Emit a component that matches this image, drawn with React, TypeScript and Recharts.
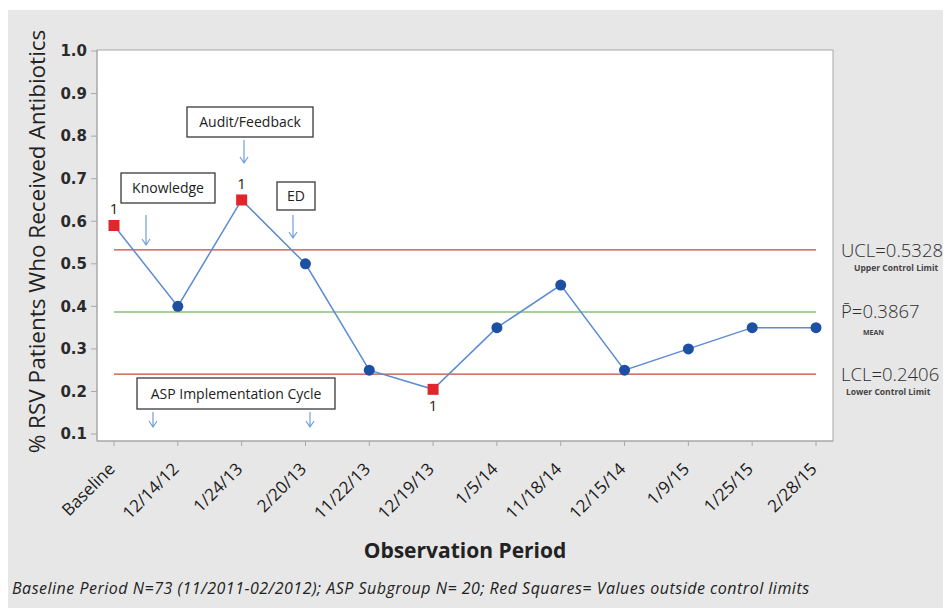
import React from 'react';
import { LineChart, Line, XAxis, YAxis, ReferenceLine, CartesianGrid, LabelList, Label } from 'recharts';

const categories = ['Baseline', '12/14/12', '1/24/13', '2/20/13', '11/22/13', '12/19/13', '1/5/14', '11/18/14', '12/15/14', '1/9/15', '1/25/15', '2/28/15'];
const proportions = [0.59, 0.40, 0.65, 0.50, 0.25, 0.205, 0.35, 0.45, 0.25, 0.30, 0.35, 0.35];
const UCL = 0.5328;
const MEAN = 0.3867;
const LCL = 0.2406;
const yTicks = [0.1, 0.2, 0.3, 0.4, 0.5, 0.6, 0.7, 0.8, 0.9, 1.0];

const data = categories.map((c, i) => ({ period: c, p: proportions[i], ucl: UCL, mean: MEAN, lcl: LCL }));

const FONT = '"Open Sans", "Noto Sans", sans-serif';

const isOut = (v: number) => v > UCL || v < LCL;

const PointDot = (props: any) => {
  const { cx, cy, payload, index } = props;
  if (cx == null || cy == null) return <g key={index} />;
  if (isOut(payload.p)) {
    return <rect key={index} x={cx - 5.5} y={cy - 5.5} width={11} height={11} fill="#e0262b" />;
  }
  return <circle key={index} cx={cx} cy={cy} r={5.5} fill="#1d4fa3" />;
};

const OutLabel = (props: any) => {
  const { x, y, value } = props;
  if (!isOut(value)) return null;
  const above = value > UCL;
  return (
    <text x={x} y={above ? y - 11 : y + 22} textAnchor="middle" fontSize={15} fontFamily={FONT} fill="#222">
      1
    </text>
  );
};

const XTick = (props: any) => {
  const { x, y, payload } = props;
  return (
    <g transform={`translate(${x + 2},${y + 22})`}>
      <text transform="rotate(-45)" textAnchor="end" fontSize={17} fontFamily={FONT} fill="#1a1a1a">
        {payload.value}
      </text>
    </g>
  );
};

const limitLabel = (main: string, sub: string, mainDy: number, subDx: number, subDy: number, subSize: number) => (p: any) => {
  const vb = p.viewBox || {};
  const x0 = (vb.x || 0) + (vb.width || 0) + 8;
  const y0 = vb.y || 0;
  return (
    <g>
      <text x={x0} y={y0 + mainDy} fontSize={18.5} fontFamily={FONT} fill="#2e2e2e" fontWeight={300}>
        {main}
      </text>
      <text x={x0 + subDx} y={y0 + subDy} fontSize={subSize} fontFamily={FONT} fontWeight="bold" fill="#444">
        {sub}
      </text>
    </g>
  );
};

const Arrow = ({ x, y1, y2 }: { x: number; y1: number; y2: number }) => (
  <path d={`M${x},${y1} L${x},${y2} M${x - 4},${y2 - 6} L${x},${y2} L${x + 4},${y2 - 6}`} stroke="#6f9fd8" strokeWidth={1.2} fill="none" />
);

const Box = ({ x, y, w, h, text }: { x: number; y: number; w: number; h: number; text: string }) => (
  <g>
    <rect x={x} y={y} width={w} height={h} fill="#fff" stroke="#3a3a3a" strokeWidth={1.3} />
    <text x={x + w / 2} y={y + h / 2 + 5} textAnchor="middle" fontSize={14} fontFamily={FONT} fill="#222">
      {text}
    </text>
  </g>
);

export default function App() {
  return (
    <div style={{ paddingTop: 2 }}>
      <div style={{ position: 'relative', width: 943, height: 598, background: '#e7e7e7' }}>
        <LineChart width={943} height={598} data={data} margin={{ top: 40, right: 118, left: 29, bottom: 107 }}>
          <CartesianGrid fill="#ffffff" horizontal={false} vertical={false} />
          <XAxis
            dataKey="period"
            padding={{ left: 17, right: 17 }}
            height={60}
            interval={0}
            tick={<XTick />}
            tickSize={5}
            stroke="#a8a8a8"
            tickLine={{ stroke: '#a8a8a8' }}
          />
          <YAxis
            type="number"
            domain={[0.0836, 1.0024]}
            ticks={yTicks}
            width={60}
            tickSize={6}
            tickMargin={4}
            tickFormatter={(v: number) => v.toFixed(1)}
            tick={{ fontSize: 15, fontFamily: '"DejaVu Sans", sans-serif', fontWeight: 'bold', fill: '#2a2a2a' }}
            stroke="#a8a8a8"
            allowDataOverflow
          />
          <ReferenceLine y={UCL} stroke="none">
            <Label content={limitLabel('UCL=0.5328', 'Upper Control Limit', 7, 13, 21, 8.5)} />
          </ReferenceLine>
          <ReferenceLine y={MEAN} stroke="none">
            <Label content={limitLabel('P\u0304=0.3867', 'MEAN', 6, 22, 23, 7)} />
          </ReferenceLine>
          <ReferenceLine y={LCL} stroke="none">
            <Label content={limitLabel('LCL=0.2406', 'Lower Control Limit', 7, 5, 21, 8.5)} />
          </ReferenceLine>
          <Line dataKey="ucl" stroke="#c8463d" strokeWidth={1.2} dot={false} isAnimationActive={false} />
          <Line dataKey="lcl" stroke="#c8463d" strokeWidth={1.2} dot={false} isAnimationActive={false} />
          <Line dataKey="mean" stroke="#84c274" strokeWidth={1.6} dot={false} isAnimationActive={false} />
          <Line dataKey="p" stroke="#5b8bd1" strokeWidth={1.5} dot={<PointDot />} isAnimationActive={false}>
            <LabelList dataKey="p" content={<OutLabel />} />
          </Line>
        </LineChart>
        <svg style={{ position: 'absolute', left: 0, top: 0, pointerEvents: 'none' }} width={943} height={598}>
          <rect x={89} y={40} width={736} height={391} fill="none" stroke="#a8a8a8" strokeWidth={1} />
          <Box x={113} y={163} w={94} h={30} text="Knowledge" />
          <Arrow x={138} y1={205} y2={235} />
          <Box x={179} y={97} w={126} h={30} text="Audit/Feedback" />
          <Arrow x={236} y1={130} y2={153} />
          <Box x={269} y={172} w={38} h={28} text="ED" />
          <Arrow x={285} y1={205} y2={228} />
          <Box x={129} y={368} w={198} h={31} text="ASP Implementation Cycle" />
          <Arrow x={145} y1={402} y2={417} />
          <Arrow x={302} y1={402} y2={417} />
          <text x={37} y={231.5} transform="rotate(-90 37 231.5)" textAnchor="middle" fontSize={22.5} fontFamily={FONT} fill="#222">
            % RSV Patients Who Received Antibiotics
          </text>
          <text x={457} y={548} textAnchor="middle" fontSize={21} fontWeight="bold" fontFamily={FONT} fill="#222">
            Observation Period
          </text>
          <text x={4} y={584} fontSize={16} letterSpacing={0.5} fontStyle="italic" fontFamily={FONT} fill="#222">
            Baseline Period N=73 (11/2011-02/2012); ASP Subgroup N= 20; Red Squares= Values outside control limits
          </text>
        </svg>
      </div>
    </div>
  );
}
